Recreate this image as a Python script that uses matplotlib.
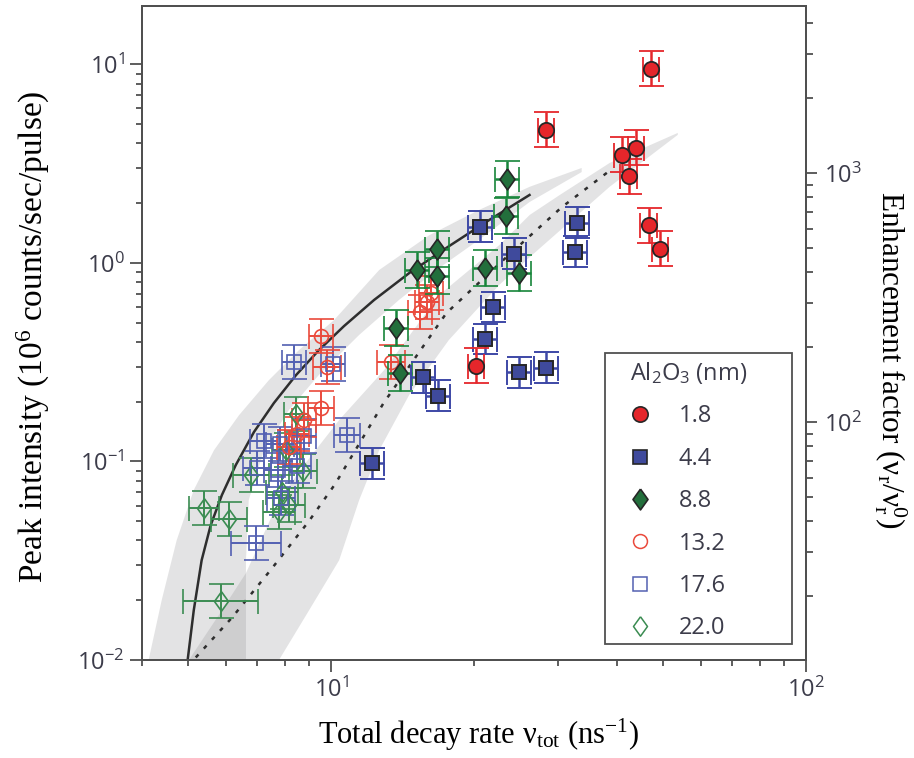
import numpy as np
import matplotlib.pyplot as plt
from matplotlib.lines import Line2D
from matplotlib.patches import Rectangle
from matplotlib.ticker import NullFormatter

plt.rcParams['font.family'] = ['Open Sans', 'DejaVu Sans']
plt.rcParams['mathtext.fontset'] = 'custom'
plt.rcParams['mathtext.rm'] = 'Liberation Serif'
plt.rcParams['mathtext.it'] = 'Liberation Serif:italic'

# ---- measured points: total decay rate (ns^-1) vs peak intensity (1e6 counts/sec/pulse)
red_filled_x = [47.1, 28.4, 40.9, 43.8, 42.3, 46.6, 49.2, 20.2]
red_filled_y = [9.5, 4.68, 3.50, 3.80, 2.74, 1.55, 1.18, 0.303]
red_filled_xerr = [0.04] * 8

blue_filled_x = [12.2, 15.6, 16.8, 20.6, 21.1, 21.9, 24.3, 24.9, 28.4, 32.9, 32.6]
blue_filled_y = [0.098, 0.266, 0.214, 1.52, 0.414, 0.600, 1.11, 0.282, 0.296, 1.59, 1.14]
blue_filled_xerr = [0.06] * 11

green_filled_x = [23.5, 23.3, 16.7, 15.2, 16.7, 21.1, 24.9, 13.7, 14.0]
green_filled_y = [2.65, 1.73, 1.18, 0.922, 0.86, 0.944, 0.89, 0.47, 0.279]
green_filled_xerr = [0.06] * 9

red_open_x = [9.53, 9.81, 9.53, 8.77, 8.48, 8.15, 13.4, 15.4, 15.9, 16.2]
red_open_y = [0.429, 0.299, 0.186, 0.162, 0.137, 0.118, 0.317, 0.566, 0.636, 0.706]
red_open_xerr = [0.06, 0.07, 0.065, 0.06, 0.06, 0.06, 0.07, 0.06, 0.06, 0.06]

blue_open_x = [8.36, 10.1, 10.8, 6.95, 7.22, 7.81, 8.77, 6.98, 7.73, 8.48, 7.85]
blue_open_y = [0.317, 0.31, 0.136, 0.0388, 0.127, 0.122, 0.134, 0.0926, 0.0905, 0.0948, 0.0654]
blue_open_xerr = [0.06, 0.06, 0.065, 0.13, 0.07, 0.07, 0.06, 0.07, 0.07, 0.07, 0.07]

green_open_x = [5.40, 6.09, 5.86, 8.44, 6.78, 8.04, 8.73, 7.88, 8.15, 7.77]
green_open_y = [0.0582, 0.0513, 0.0198, 0.173, 0.0854, 0.114, 0.0894, 0.0701, 0.0603, 0.0556]
green_open_xerr = [0.075, 0.09, 0.2, 0.06, 0.09, 0.07, 0.07, 0.08, 0.08, 0.08]

series_labels = ['1.8', '4.4', '8.8', '13.2', '17.6', '22.0']

# ---- model curves
solid_x = [4.99, 5.14, 5.34, 5.58, 5.89, 6.30, 6.88, 7.58, 8.44, 9.43, 10.65, 12.32, 14.61, 17.74, 21.54, 26.17]
solid_y = [0.01, 0.0178, 0.0318, 0.0478, 0.0677, 0.0959, 0.1406, 0.197, 0.2725, 0.364, 0.481, 0.651, 0.890, 1.218, 1.647, 2.20]

dotted_x = [5.19, 6.18, 7.47, 8.98, 10.2, 12.9, 17.5, 23.4, 30.6, 39.2]
dotted_y = [0.0103, 0.0163, 0.0285, 0.050, 0.077, 0.197, 0.56, 1.07, 1.91, 3.0]

# shaded uncertainty bands around the two curves
band1_upper_x = [4.13, 4.40, 4.73, 5.14, 5.67, 6.40, 7.40, 8.56, 10.15, 12.63, 16.1, 20.5, 26.2, 33.7]
band1_upper_y = [0.01, 0.020, 0.040, 0.0718, 0.114, 0.171, 0.257, 0.364, 0.516, 0.922, 1.38, 1.85, 2.42, 3.01]
band1_lower_x = [33.7, 26.2, 20.5, 16.9, 13.9, 11.46, 9.43, 8.15, 7.22, 6.71, 6.62, 6.62]
band1_lower_y = [2.87, 2.03, 1.31, 0.944, 0.651, 0.434, 0.273, 0.1815, 0.114, 0.0639, 0.0318, 0.01]

band2_upper_x = [5.02, 5.80, 6.62, 7.12, 7.77, 8.77, 10.4, 12.94, 16.9, 22.6, 26.2, 30.3, 38.6, 53.7]
band2_upper_y = [0.01, 0.0168, 0.0274, 0.0402, 0.0639, 0.0959, 0.1617, 0.289, 0.690, 1.23, 1.746, 2.20, 3.19, 4.52]
band2_lower_x = [53.7, 38.6, 26.2, 22.6, 17.7, 14.6, 12.63, 11.46, 10.4, 8.99, 7.77]
band2_lower_y = [4.42, 2.42, 1.07, 0.775, 0.409, 0.216, 0.114, 0.0639, 0.0318, 0.0178, 0.01]

RED = '#e5262b'
BLUE = '#3d48a6'
BLUE_FACE = '#3f4a9c'
GREEN = '#17853a'
GREEN_FACE = '#236f3c'
RED_OPEN = '#ea4a3c'
BLUE_OPEN = '#5360b2'
GREEN_OPEN = '#3b8c52'
EDGE = '#262626'
TEXT = '#3c3c4a'
AXIS = '#505050'

DIAMOND = [(0, 1), (0.72, 0), (0, -1), (-0.72, 0), (0, 1)]

fig = plt.figure(figsize=(9.14, 7.58), dpi=100)
ax = fig.add_axes([0.1554, 0.1293, 0.7265, 0.8628])
ax.set_xscale('log')
ax.set_yscale('log')
ax.set_xlim(4, 100)
ax.set_ylim(0.01, 19.7)

ax.fill(band1_upper_x + band1_lower_x, band1_upper_y + band1_lower_y,
        color='#8c8c90', alpha=0.24, lw=0, zorder=1)
ax.fill(band2_upper_x + band2_lower_x, band2_upper_y + band2_lower_y,
        color='#8c8c90', alpha=0.24, lw=0, zorder=1)
ax.plot(solid_x, solid_y, color='#2e2e2e', lw=1.8, zorder=2)
ax.plot(dotted_x, dotted_y, color='#2e2e2e', lw=1.8, ls=(0, (1.6, 3.2)), zorder=2)


def draw_series(x, y, xfrac, ydec, color, lw, z, **mk):
    x = np.asarray(x)
    y = np.asarray(y)
    xf = np.asarray(xfrac)
    xerr = [x - x / (1 + xf), x * xf]
    f = 10 ** ydec
    yerr = [y - y / f, y * f - y]
    ax.errorbar(x, y, xerr=xerr, yerr=yerr, ls='none', ecolor=color,
                elinewidth=lw, capsize=9, capthick=lw, zorder=z, **mk)


# open symbols first, filled symbols on top
draw_series(green_open_x, green_open_y, green_open_xerr, 0.085, GREEN_OPEN, 1.4, 3,
            marker=DIAMOND, ms=14, mfc='none', mec=GREEN_OPEN, mew=1.2)
draw_series(blue_open_x, blue_open_y, blue_open_xerr, 0.085, BLUE_OPEN, 1.4, 3,
            marker='s', ms=9.5, mfc='none', mec=BLUE_OPEN, mew=1.2)
draw_series(red_open_x, red_open_y, red_open_xerr, 0.085, RED_OPEN, 1.4, 3,
            marker='o', ms=10, mfc='none', mec=RED_OPEN, mew=1.2)
draw_series(green_filled_x, green_filled_y, green_filled_xerr, 0.09, GREEN, 1.8, 4,
            marker=DIAMOND, ms=15, mfc=GREEN_FACE, mec=EDGE, mew=1.2)
draw_series(blue_filled_x, blue_filled_y, blue_filled_xerr, 0.078, BLUE, 1.8, 4,
            marker='s', ms=10.5, mfc=BLUE_FACE, mec=EDGE, mew=1.4)
draw_series(red_filled_x, red_filled_y, red_filled_xerr, 0.088, RED, 1.8, 5,
            marker='o', ms=11, mfc=RED, mec=EDGE, mew=1.3)

# axes styling
for side in ['left', 'right', 'top', 'bottom']:
    ax.spines[side].set_color(AXIS)
    ax.spines[side].set_linewidth(1.4)
ax.tick_params(which='both', top=False, right=False, color=AXIS, labelcolor=TEXT, width=1.3)
ax.tick_params(which='major', length=8.5, labelsize=17, pad=4)
ax.tick_params(which='minor', length=4.3)
ax.xaxis.set_minor_formatter(NullFormatter())
ax.yaxis.set_minor_formatter(NullFormatter())

ax2 = ax.twinx()
ax2.set_yscale('log')
ax2.set_ylim(11.1, 4697)
for side in ['left', 'right', 'top', 'bottom']:
    ax2.spines[side].set_color(AXIS)
    ax2.spines[side].set_linewidth(1.4)
ax2.tick_params(which='both', color=AXIS, labelcolor=TEXT, width=1.3)
ax2.tick_params(which='major', length=8, labelsize=17, pad=5)
ax2.tick_params(which='minor', length=5)
ax2.yaxis.set_minor_formatter(NullFormatter())

ax.set_xlabel('Total decay rate ν$_{\\rm tot}$ (ns$^{-1}$)', fontfamily='Liberation Serif',
              fontsize=22, color='black', va='center')
ax.xaxis.set_label_coords(0.506, -0.115)
ax.set_ylabel('Peak intensity (10$^{\\rm 6}$ counts/sec/pulse)', fontfamily='Liberation Serif',
              fontsize=24, color='black', va='center')
ax.yaxis.set_label_coords(-0.164, 0.495)
ax2.set_ylabel('Enhancement factor (ν$_{\\rm r}$/ν$_{\\rm r}^{\\rm 0}$)', fontfamily='Liberation Serif',
               fontsize=22.5, color='black', rotation=270, va='center', ha='center')
ax2.yaxis.set_label_coords(1.127, 0.459)

# legend: drawn without its own frame, boxed by a separate rectangle
ax.add_patch(Rectangle((0.6973, 0.0245), 0.2816, 0.4449, transform=ax.transAxes,
                       facecolor='white', edgecolor=AXIS, lw=1.3, zorder=6))
handles = [
    Line2D([], [], ls='none', marker='o', ms=11, mfc=RED, mec=EDGE, mew=1.2),
    Line2D([], [], ls='none', marker='s', ms=10.5, mfc=BLUE_FACE, mec=EDGE, mew=1.2),
    Line2D([], [], ls='none', marker=DIAMOND, ms=15, mfc=GREEN_FACE, mec=EDGE, mew=1.2),
    Line2D([], [], ls='none', marker='o', ms=10, mfc='none', mec=RED_OPEN, mew=1.1),
    Line2D([], [], ls='none', marker='s', ms=10, mfc='none', mec=BLUE_OPEN, mew=1.1),
    Line2D([], [], ls='none', marker=DIAMOND, ms=14, mfc='none', mec=GREEN_OPEN, mew=1.1),
]
leg = ax.legend(handles, series_labels, title='Al$_{\\mathdefault{2}}$O$_{\\mathdefault{3}}$ (nm)',
                loc='upper left', bbox_to_anchor=(0.735, 0.4588), borderaxespad=0,
                frameon=False, fontsize=17, title_fontsize=17,
                labelspacing=0.78, handlelength=0.85, handletextpad=1.2, borderpad=0,
                alignment='left')
leg.set_zorder(7)
leg.get_title().set_color(TEXT)
for t in leg.get_texts():
    t.set_color(TEXT)

fig.savefig('out.png', dpi=100)
